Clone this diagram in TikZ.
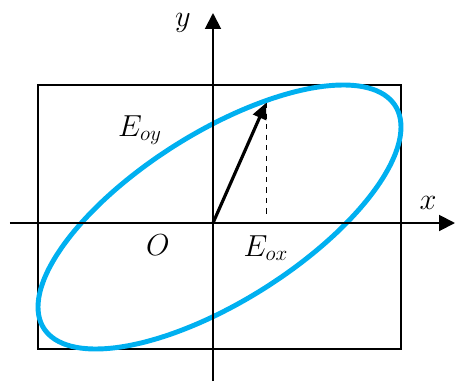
\documentclass[tikz,border=0pt]{standalone}
\usepackage{xcolor}
\usepackage{tikz}
\usetikzlibrary{arrows.meta}
\definecolor{ellblue}{RGB}{0,176,240}
\tikzset{
    axis/.style={line width=1.1pt, -{Triangle[length=9pt,width=9pt]}},
    lbl/.style={font=\fontsize{17}{20}\selectfont}
}

\begin{document}
\begin{tikzpicture}
    \useasboundingbox (-4.26,-3.16) rectangle (4.84,4.46);

    % Box
    \draw[line width=1.1pt] (-3.5,-2.52) rectangle (3.76,2.76);

    % Ellipse
    \draw[ellblue, line width=2.8pt, smooth cycle, samples=72, domain=0:355]
        plot ({0.13+3.63*cos(\x)}, {0.12+2.64*cos(\x-47)});

    % Axes
    \coordinate (O) at (0,0);
    \draw[axis] (-4.06,0) -- (4.84,0);
    \draw[axis] (0,-3.16) -- (0,4.2);
    \node[lbl] (xl) at (4.3,0.4) {$x$};
    \node[lbl] (yl) at (-0.6,4.0) {$y$};
    \node[lbl] (ol) at (-1.1,-0.44) {$O$};

    % Field vector
    \coordinate (P) at (1.06,2.4);
    \coordinate (Px) at (1.06,0.16);
    \draw[line width=1.8pt, -{Triangle[length=9pt,width=8pt]}] (O) -- (P);
    \draw[dashed, line width=0.5pt] (P) -- (Px);
    \node[lbl] (ex) at (1.06,-0.5) {$E_{ox}$};
    \node[lbl] (ey) at (-1.46,1.86) {$E_{oy}$};
\end{tikzpicture}
\end{document}
